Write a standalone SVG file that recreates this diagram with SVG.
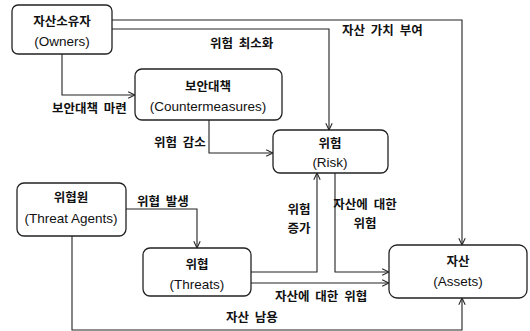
<svg xmlns="http://www.w3.org/2000/svg" width="530" height="331" viewBox="0 0 530 331">
<defs>
<style>
.box{fill:#fff;stroke:#222;stroke-width:1.3}
.ko{font-family:"Noto Sans CJK KR","Noto Sans",sans-serif;font-weight:bold;font-size:12.5px;fill:#111;text-anchor:middle}
.en{font-family:"Liberation Sans","DejaVu Sans",sans-serif;font-size:13.5px;fill:#111;text-anchor:middle}
.lbl{font-family:"Noto Sans CJK KR","Noto Sans",sans-serif;font-weight:bold;font-size:12.5px;fill:#111;word-spacing:3px}
.ln{fill:none;stroke:#222;stroke-width:1.1}
</style>
<marker id="arr" viewBox="0 0 10 10" refX="9.5" refY="5" markerWidth="8" markerHeight="8" orient="auto" markerUnits="userSpaceOnUse">
<path d="M1,1 L9.5,5 L1,9" fill="none" stroke="#222" stroke-width="1.3"/>
</marker>
</defs>
<rect width="530" height="331" fill="#fff"/>
<g id="connectors">
<path class="ln" d="M112,20 H462 V245" marker-end="url(#arr)"/>
<path class="ln" d="M112,29 H329 V130" marker-end="url(#arr)"/>
<path class="ln" d="M62,54 V95 H135" marker-end="url(#arr)"/>
<path class="ln" d="M209,120 V153 H273" marker-end="url(#arr)"/>
<path class="ln" d="M126,209 H197 V248" marker-end="url(#arr)"/>
<path class="ln" d="M72,236 V330 H462 V298" marker-end="url(#arr)"/>
<path class="ln" d="M251,272 H317 V173" marker-end="url(#arr)"/>
<path class="ln" d="M251,283 H389" marker-end="url(#arr)"/>
<path class="ln" d="M335,173 V272 H389" marker-end="url(#arr)"/>
<text class="lbl" x="342" y="35">자산 가치 부여</text>
<text class="lbl" x="210" y="48">위험 최소화</text>
<text class="lbl" x="52" y="113">보안대책 마련</text>
<text class="lbl" x="154" y="147">위험 감소</text>
<text class="lbl" x="137" y="206">위협 발생</text>
<text class="lbl" x="299" y="214" text-anchor="middle">위험</text>
<text class="lbl" x="299" y="233" text-anchor="middle">증가</text>
<text class="lbl" x="365" y="209" text-anchor="middle">자산에 대한</text>
<text class="lbl" x="365" y="228" text-anchor="middle">위험</text>
<text class="lbl" x="275" y="301">자산에 대한 위협</text>
<text class="lbl" x="226" y="322">자산 남용</text>
</g>
<g id="owners">
<rect class="box" x="12" y="5" width="100" height="49" rx="6"/>
<text class="ko" x="62" y="26">자산소유자</text>
<text class="en" x="62" y="46">(Owners)</text>
</g>
<g id="countermeasures">
<rect class="box" x="135" y="69" width="147" height="51" rx="7"/>
<text class="ko" x="208" y="91">보안대책</text>
<text class="en" x="208" y="111">(Countermeasures)</text>
</g>
<g id="risk">
<rect class="box" x="273" y="130" width="115" height="43" rx="7"/>
<text class="ko" x="330" y="148">위험</text>
<text class="en" x="330" y="167">(Risk)</text>
</g>
<g id="threat-agents">
<rect class="box" x="17" y="183" width="109" height="53" rx="7"/>
<text class="ko" x="71" y="202">위협원</text>
<text class="en" x="71" y="223">(Threat Agents)</text>
</g>
<g id="threats">
<rect class="box" x="143" y="248" width="108" height="48" rx="7"/>
<text class="ko" x="197" y="269">위협</text>
<text class="en" x="197" y="289">(Threats)</text>
</g>
<g id="assets">
<rect class="box" x="389" y="245" width="138" height="53" rx="8"/>
<text class="ko" x="458" y="266">자산</text>
<text class="en" x="458" y="286">(Assets)</text>
</g>
</svg>
